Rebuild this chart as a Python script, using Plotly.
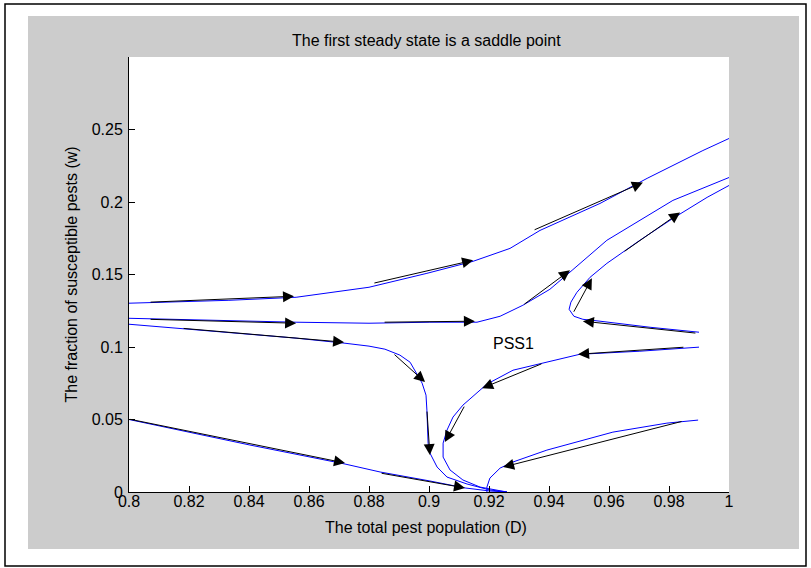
import plotly.graph_objects as go

# ---------------- data ----------------
x_tick_vals = [0.8, 0.82, 0.84, 0.86, 0.88, 0.9, 0.92, 0.94, 0.96, 0.98, 1.0]
x_tick_text = ["0.8", "0.82", "0.84", "0.86", "0.88", "0.9", "0.92", "0.94", "0.96", "0.98", "1"]
y_tick_vals = [0, 0.05, 0.1, 0.15, 0.2, 0.25]
y_tick_text = ["0", "0.05", "0.1", "0.15", "0.2", "0.25"]

# trajectories (D, w)
traj1_D = [0.8, 0.8333, 0.8557, 0.88, 0.8993, 0.9147, 0.927, 0.937, 0.957, 0.9727, 0.9913, 1.0]
traj1_w = [0.1302, 0.1322, 0.1343, 0.1412, 0.1508, 0.1591, 0.168, 0.1804, 0.199, 0.2163, 0.2355, 0.2438]

traj2_D = [0.8, 0.8237, 0.8557, 0.88, 0.9003, 0.916, 0.9237, 0.9313, 0.9403, 0.9477, 0.9593, 0.9813, 1.0]
traj2_w = [0.1198, 0.1185, 0.1171, 0.1164, 0.1171, 0.1171, 0.1212, 0.1288, 0.1398, 0.1529, 0.1736, 0.2011, 0.2169]

traj3_D = [0.99, 0.9737, 0.957, 0.9513, 0.9483, 0.9467, 0.9473, 0.9493, 0.9537, 0.9593, 0.9703, 0.9813, 0.9927, 1.0]
traj3_w = [0.1102, 0.1136, 0.1178, 0.1191, 0.1212, 0.126, 0.1309, 0.1377, 0.1481, 0.1577, 0.1736, 0.1887, 0.2032, 0.2114]

traj4_D = [0.8, 0.8333, 0.8557, 0.872, 0.88, 0.8853, 0.8903, 0.8937, 0.8957, 0.8977, 0.899, 0.8993,
           0.8997, 0.9003, 0.9027, 0.906, 0.9127, 0.9203, 0.926]
traj4_w = [0.1157, 0.1102, 0.1061, 0.1026, 0.1006, 0.0985, 0.0944, 0.0895, 0.0826, 0.0751, 0.0668, 0.0565,
           0.0337, 0.0269, 0.0172, 0.0103, 0.0055, 0.0014, 0.0]

traj5_D = [0.99, 0.9703, 0.9503, 0.938, 0.928, 0.9193, 0.917, 0.9113, 0.908, 0.906, 0.9047, 0.9047,
           0.907, 0.9113, 0.917, 0.926]
traj5_w = [0.0999, 0.0971, 0.095, 0.0888, 0.084, 0.0744, 0.0702, 0.0599, 0.0517, 0.0427, 0.0337, 0.0241,
           0.0152, 0.0083, 0.0034, 0.0]

traj6_D = [0.8, 0.8403, 0.872, 0.8837, 0.9003, 0.912, 0.9203, 0.926]
traj6_w = [0.05, 0.0324, 0.0193, 0.0138, 0.0076, 0.0028, 0.0007, 0.0]

traj7_D = [0.9897, 0.9793, 0.9613, 0.9393, 0.928, 0.9237, 0.9203, 0.9193, 0.9193]
traj7_w = [0.0496, 0.0475, 0.0413, 0.0289, 0.0207, 0.0165, 0.0096, 0.0034, 0.0]

trajectories = [(traj1_D, traj1_w), (traj2_D, traj2_w), (traj3_D, traj3_w), (traj4_D, traj4_w),
                (traj5_D, traj5_w), (traj6_D, traj6_w), (traj7_D, traj7_w)]

# direction arrows: tail -> head
arrow_tail_D = [0.8067, 0.8813, 0.9347, 0.8067, 0.8847, 0.9313, 0.9893, 0.948, 0.9647,
                0.8177, 0.888, 0.8993, 0.9853, 0.938, 0.912, 0.8, 0.8837, 0.9847]
arrow_tail_w = [0.1309, 0.1439, 0.1804, 0.1191, 0.1171, 0.1288, 0.1095, 0.1233, 0.1653,
                0.1129, 0.0957, 0.0565, 0.0999, 0.0888, 0.0599, 0.0503, 0.0131, 0.0489]
arrow_head_D = [0.855, 0.9147, 0.9713, 0.8557, 0.9153, 0.947, 0.9513, 0.9543, 0.9837,
                0.8717, 0.8987, 0.9003, 0.9497, 0.9177, 0.9053, 0.872, 0.912, 0.9247]
arrow_head_w = [0.135, 0.1598, 0.2135, 0.1164, 0.1178, 0.1529, 0.1178, 0.1474, 0.1928,
                0.1033, 0.0758, 0.0255, 0.095, 0.0716, 0.0344, 0.02, 0.0028, 0.0172]

label_text = "PSS1"
label_D, label_w = 0.9283, 0.1026

title_text = "The first steady state is a saddle point"
x_title = "The total pest population (D)"
y_title = "The fraction of susceptible pests (w)"

# ---------------- layout geometry (pixels) ----------------
W, H = 811, 568
L, R, T, B = 129, 729, 57, 492          # plot area edges
FONT = "Liberation Sans, Arial, sans-serif"

def px_x(p):
    return (p - L) / (R - L)

def px_y(p):
    return (B - p) / (B - T)

fig = go.Figure()
for D, w in trajectories:
    fig.add_trace(go.Scatter(x=D, y=w, mode="lines",
                             line=dict(color="#0000ff", width=1), hoverinfo="skip"))

annotations = []
for tx, ty, hx, hy in zip(arrow_tail_D, arrow_tail_w, arrow_head_D, arrow_head_w):
    annotations.append(dict(x=hx, y=hy, ax=tx, ay=ty, xref="x", yref="y", axref="x", ayref="y",
                            text="", showarrow=True, arrowhead=2, arrowsize=2.2, arrowwidth=1,
                            arrowcolor="black", standoff=0, startstandoff=0))

annotations.append(dict(x=label_D, y=label_w, xref="x", yref="y", text=label_text, showarrow=False,
                        font=dict(family=FONT, size=16, color="black")))
annotations.append(dict(x=px_x(426), y=px_y(40), xref="paper", yref="paper", text=title_text,
                        showarrow=False, xanchor="center", yanchor="middle",
                        font=dict(family=FONT, size=16, color="black")))
annotations.append(dict(x=px_x(426), y=px_y(527), xref="paper", yref="paper", text=x_title,
                        showarrow=False, xanchor="center", yanchor="middle",
                        font=dict(family=FONT, size=16, color="black")))
annotations.append(dict(x=px_x(71), y=0.5, xref="paper", yref="paper", text=y_title, textangle=-90,
                        showarrow=False, xanchor="center", yanchor="middle",
                        font=dict(family=FONT, size=16, color="black")))

shapes = [
    dict(type="rect", xref="paper", yref="paper", x0=px_x(28), x1=px_x(799), y0=px_y(549), y1=px_y(16),
         fillcolor="#cccccc", line=dict(width=0), layer="below"),
    dict(type="rect", xref="paper", yref="paper", x0=0, x1=1, y0=0, y1=1,
         fillcolor="white", line=dict(width=0), layer="below"),
    dict(type="rect", xref="paper", yref="paper", x0=px_x(5), x1=px_x(806), y0=px_y(566), y1=px_y(4),
         fillcolor="rgba(0,0,0,0)", line=dict(color="black", width=1.5), layer="below"),
]

fig.update_layout(
    width=W, height=H,
    margin=dict(l=L, r=W - R, t=T, b=H - B, pad=0),
    paper_bgcolor="white", plot_bgcolor="rgba(0,0,0,0)",
    showlegend=False,
    font=dict(family=FONT, size=16, color="black"),
    annotations=annotations, shapes=shapes,
    xaxis=dict(range=[0.8, 1.0], tickvals=x_tick_vals, ticktext=x_tick_text, ticks="inside", ticklen=6,
               tickcolor="black", showline=True, linecolor="black", linewidth=1, showgrid=False,
               zeroline=False, mirror=False, tickfont=dict(family=FONT, size=16, color="black"),
               ticklabelstandoff=-5),
    yaxis=dict(range=[0, 0.3], tickvals=y_tick_vals, ticktext=y_tick_text, ticks="inside", ticklen=6,
               tickcolor="black", showline=True, linecolor="black", linewidth=1, showgrid=False,
               zeroline=False, mirror=False, tickfont=dict(family=FONT, size=16, color="black"),
               ticklabelstandoff=2),
)

fig.write_html("out.html", config={"displayModeBar": False},
               post_script="document.body.style.margin='0';document.body.style.overflow='hidden';")
